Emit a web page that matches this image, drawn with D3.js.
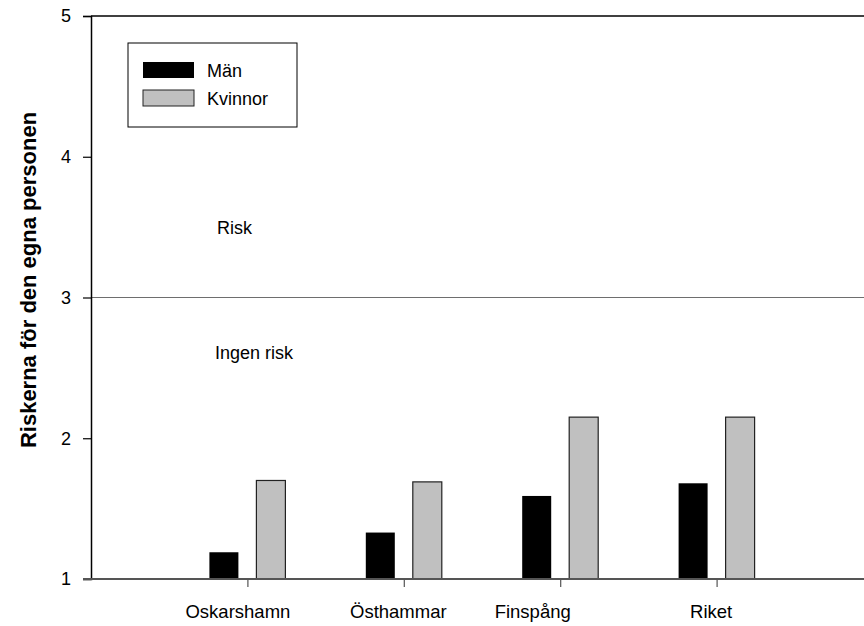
<!DOCTYPE html>
<html>
<head>
<meta charset="utf-8">
<script src="https://cdn.jsdelivr.net/npm/d3@7"></script>
<style>
body{margin:0;background:#fff;}
text{font-family:Arial,"Liberation Sans",sans-serif;}
</style>
</head>
<body>
<svg id="chart" width="864" height="626"></svg>
<script>
const categories = ["Oskarshamn","Östhammar","Finspång","Riket"];
const man = [1.19, 1.33, 1.59, 1.68];
const kvinnor = [1.70, 1.69, 2.15, 2.15];
const seriesNames = ["Män","Kvinnor"];
const seriesColors = ["#000000","#c0c0c0"];
const yTicks = [1,2,3,4,5];
const thresholdValue = 3;

// layout: horizontal nudge of each category label (as in the original)
const labelShift = [-10, -6, -28, -6];

const svg = d3.select("#chart");
const mLeft = 91, mTop = 16, mBottom = 579, mRight = 873;

const x = d3.scaleLinear().domain([0, categories.length + 1]).range([mLeft, mRight]);
const y = d3.scaleLinear().domain([1, 5]).range([mBottom, mTop]);

// threshold line
svg.append("line").attr("x1", mLeft).attr("x2", 864)
  .attr("y1", y(thresholdValue)).attr("y2", y(thresholdValue))
  .attr("stroke", "#6e6e6e").attr("stroke-width", 1.2);

// top line
svg.append("line").attr("x1", mLeft).attr("x2", 864)
  .attr("y1", y(5)).attr("y2", y(5))
  .attr("stroke", "#000").attr("stroke-width", 1.5);

// bars
const barW = 29, off = 23.5;
const series = [man, kvinnor];
series.forEach((vals, si) => {
  svg.append("g").selectAll("rect").data(vals).join("rect")
    .attr("x", (d, i) => x(i + 1) + (si === 0 ? -off : off) - barW / 2)
    .attr("width", barW)
    .attr("y", d => y(d))
    .attr("height", d => y(1) - y(d))
    .attr("fill", seriesColors[si])
    .attr("stroke", si === 0 ? "none" : "#222")
    .attr("stroke-width", 1.2);
});

// y axis
const yAxis = d3.axisLeft(y).tickValues(yTicks).tickFormat(d3.format("d")).tickSize(8).tickPadding(12);
const gy = svg.append("g").attr("transform", `translate(${mLeft},0)`).call(yAxis);
gy.select(".domain").attr("stroke", "#000").attr("stroke-width", 1.5);
gy.selectAll(".tick line").attr("stroke", "#000").attr("stroke-width", 1.2);
gy.selectAll("text").attr("font-size", 18).attr("fill", "#000");

// x axis
const xAxis = d3.axisBottom(x).tickValues(d3.range(1, categories.length + 1))
  .tickFormat(d => categories[d - 1]).tickSize(8).tickPadding(18);
const gx = svg.append("g").attr("transform", `translate(0,${mBottom})`).call(xAxis);
gx.select(".domain").attr("d", `M${mLeft - 8},0H864`).attr("stroke", "#555").attr("stroke-width", 2);
gx.selectAll(".tick line").attr("stroke", "#555").attr("stroke-width", 1.2);
gx.selectAll("text").attr("font-size", 18.5).attr("fill", "#000")
  .attr("dx", d => labelShift[d - 1]);

// y title
svg.append("text")
  .attr("transform", `translate(36,280) rotate(-90)`)
  .attr("text-anchor", "middle")
  .attr("font-size", 22).attr("font-weight", "bold")
  .text("Riskerna för den egna personen");

// region labels
svg.append("text").attr("x", 217).attr("y", 234).attr("font-size", 18).text("Risk");
svg.append("text").attr("x", 215).attr("y", 359).attr("font-size", 18).text("Ingen risk");

// legend
const lg = svg.append("g");
lg.append("rect").attr("x", 128).attr("y", 43).attr("width", 169).attr("height", 84)
  .attr("fill", "#fff").attr("stroke", "#000").attr("stroke-width", 1);
seriesNames.forEach((n, i) => {
  lg.append("rect").attr("x", 143).attr("y", 62 + i * 28).attr("width", 51).attr("height", 16)
    .attr("fill", seriesColors[i]).attr("stroke", i === 0 ? "none" : "#222").attr("stroke-width", 1);
  lg.append("text").attr("x", 207).attr("y", 77 + i * 28).attr("font-size", 18).text(n);
});
</script>
</body>
</html>
